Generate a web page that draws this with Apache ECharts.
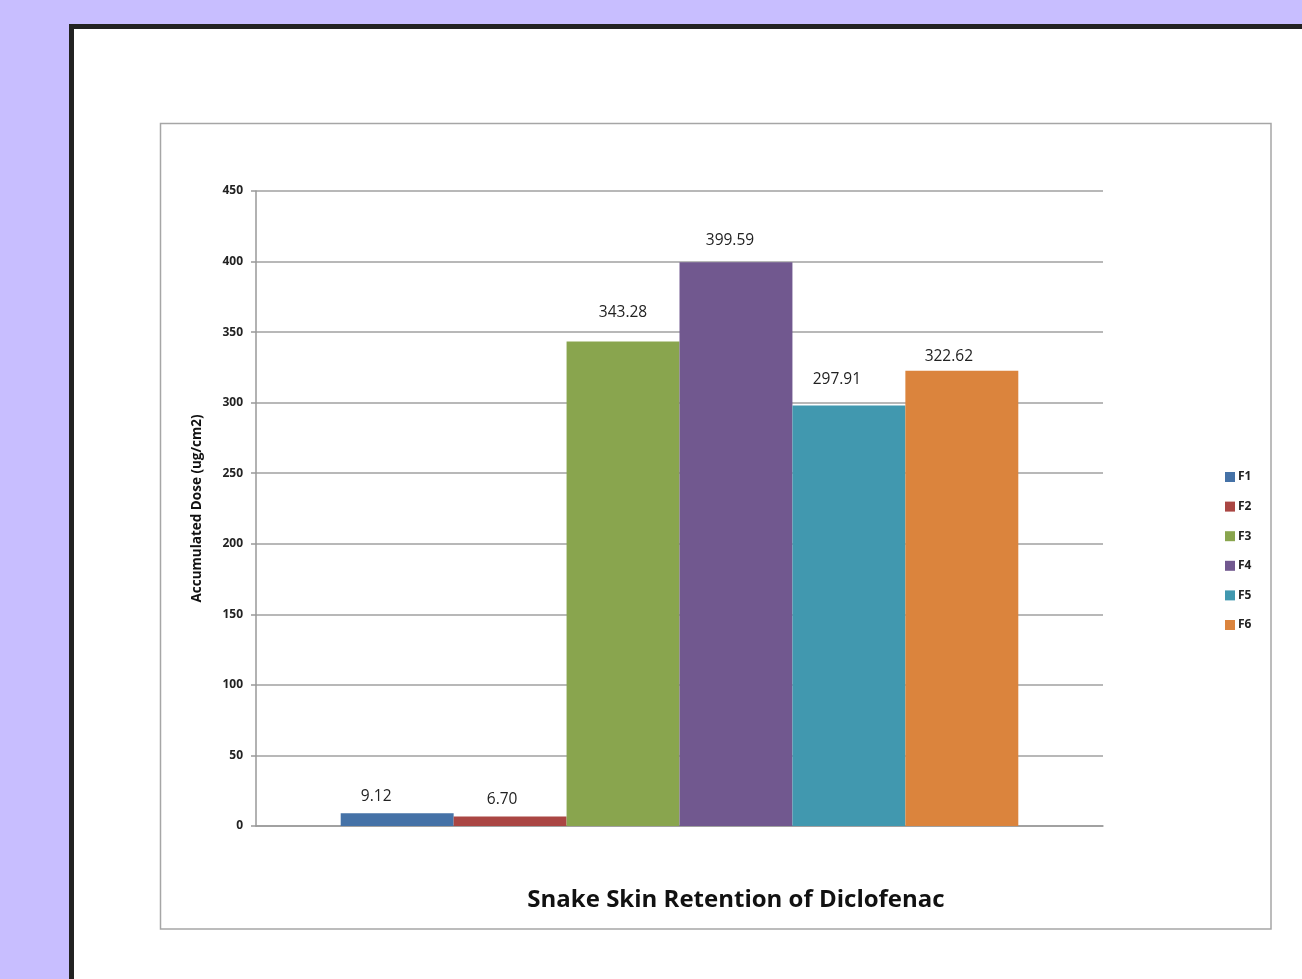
<!DOCTYPE html>
<html>
<head>
<meta charset="utf-8">
<script src="https://cdn.jsdelivr.net/npm/echarts@6/dist/echarts.min.js"></script>
<style>
html,body{margin:0;padding:0;background:#C8BEFF;}
#chart{width:1302px;height:979px;}
</style>
</head>
<body>
<div id="chart"></div>
<script>
var categories = [''];
var seriesNames = ['F1', 'F2', 'F3', 'F4', 'F5', 'F6'];
var seriesValues = [9.12, 6.70, 343.28, 399.59, 297.91, 322.62];
var yTicks = [0, 50, 100, 150, 200, 250, 300, 350, 400, 450];
var colors = ['#4572A7', '#AA4643', '#89A54E', '#71588F', '#4198AF', '#DB843D'];
var labelOffsets = [[-21, -9], [-8, -9], [0, -21], [-6, -14], [-12, -18], [-13, -6]];

var chart = echarts.init(document.getElementById('chart'));
var series = seriesNames.map(function (n, i) {
  return {
    name: n,
    type: 'bar',
    data: [seriesValues[i]],
    barGap: '0%',
    barCategoryGap: '20%',
    itemStyle: { color: colors[i] },
    label: {
      show: true,
      position: 'top',
      distance: 0,
      offset: labelOffsets[i],
      formatter: function (p) { return p.value.toFixed(2); },
      fontFamily: 'Open Sans',
      fontSize: 15.5,
      color: '#222'
    }
  };
});

chart.setOption({
  backgroundColor: '#C8BEFF',
  animation: false,
  color: colors,
  graphic: [
    { type: 'rect', z: -20, shape: { x: 71.5, y: 26.5, width: 1300, height: 1000 },
      style: { fill: '#ffffff', stroke: '#222222', lineWidth: 5 } },
    { type: 'rect', z: -19, shape: { x: 160.5, y: 123.5, width: 1110.5, height: 805.5 },
      style: { fill: '#ffffff', stroke: '#a6a6a6', lineWidth: 1.5 } }
  ],
  title: {
    text: 'Snake Skin Retention of Diclofenac',
    left: 731, top: 883, textAlign: 'center',
    textStyle: { fontFamily: 'Open Sans', fontWeight: 'bold', fontSize: 24, color: '#111' }
  },
  legend: {
    orient: 'vertical',
    left: 1225, top: 471,
    padding: 0,
    itemWidth: 10, itemHeight: 10, itemGap: 17.6,
    icon: 'rect',
    data: seriesNames,
    textStyle: { fontFamily: 'Open Sans', fontWeight: 'bold', fontSize: 12, color: '#222', padding: [0, 0, 0, -2] }
  },
  grid: { left: 256, top: 191, width: 847, height: 635, containLabel: false },
  xAxis: {
    type: 'category',
    data: categories,
    axisLine: { show: true, lineStyle: { color: '#999', width: 1.5 } },
    axisTick: { show: false },
    axisLabel: { show: false },
    splitLine: { show: false }
  },
  yAxis: {
    type: 'value',
    min: yTicks[0], max: yTicks[yTicks.length - 1], interval: 50,
    name: 'Accumulated Dose (ug/cm2)',
    nameLocation: 'middle',
    nameGap: 52,
    nameRotate: 90,
    nameTextStyle: { fontFamily: 'Open Sans', fontWeight: 'bold', fontSize: 13.5, color: '#111' },
    axisLine: { show: true, lineStyle: { color: '#999', width: 1.5 } },
    axisTick: { show: true, length: 5, lineStyle: { color: '#999', width: 1.5 } },
    axisLabel: { fontFamily: 'Open Sans', fontWeight: 'bold', fontSize: 12, color: '#222', margin: 13 },
    splitLine: { show: true, lineStyle: { color: '#a0a0a0', width: 1.5 } }
  },
  series: series
});
</script>
</body>
</html>
